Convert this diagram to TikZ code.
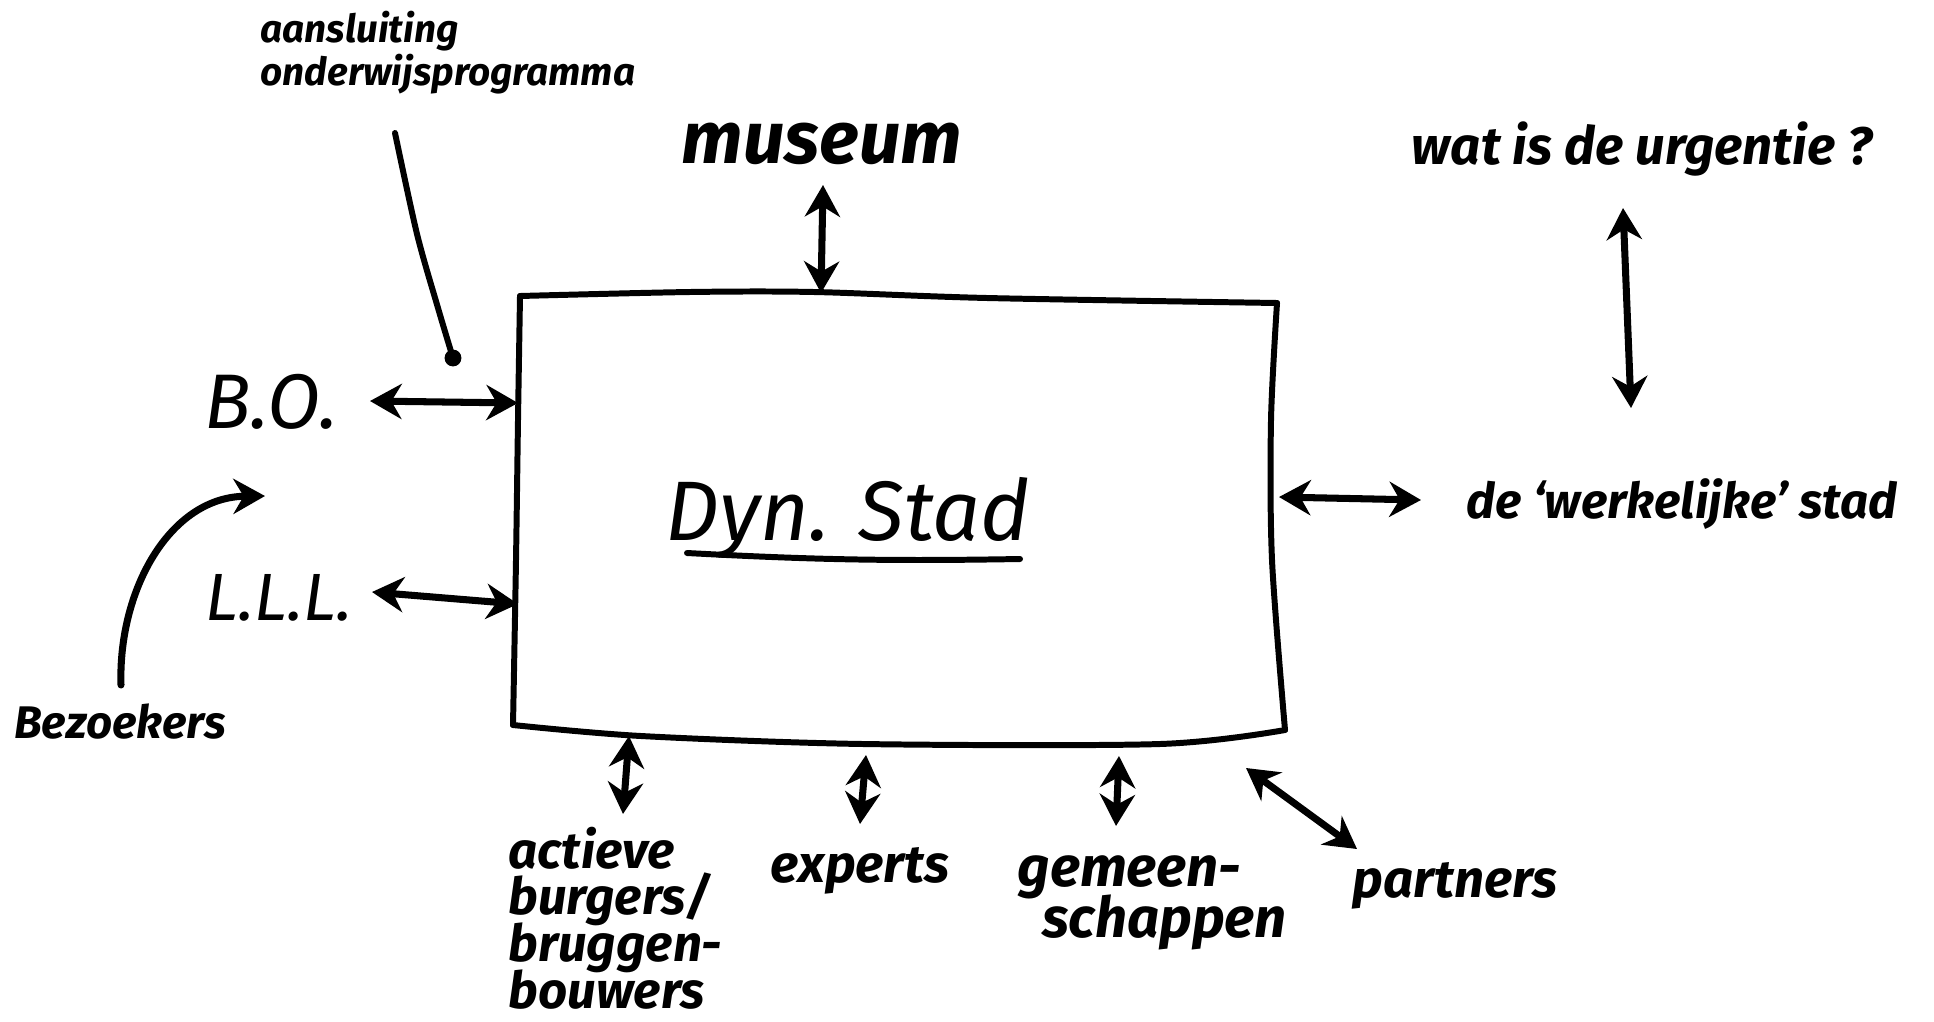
\documentclass[tikz,border=0pt]{standalone}
\usepackage{fontspec}
\setmainfont{Fira Sans}
\usetikzlibrary{arrows.meta}
\newcommand\tightlines{\lineskiplimit=-30pt\relax}
\begin{document}
\begin{tikzpicture}[x=0.01cm,y=-0.01cm,
  ink/.style={line width=1.7pt, line cap=round, line join=round},
  link/.style={ink, line width=2pt, {Stealth[length=9pt,width=10pt]}-{Stealth[length=9pt,width=10pt]}},
  oneway/.style={ink, line width=2pt, -{Stealth[length=9pt,width=10pt]}},
  marker/.style={inner sep=0pt, font=\bfseries\itshape},
  pen/.style={inner sep=0pt, font=\itshape}]
\useasboundingbox (0,0) rectangle (1934,1021);
\fill[white] (0,0) rectangle (1934,1021);

% the box
\coordinate (tl) at (520,296);
\coordinate (tr) at (1277,303);
\coordinate (br) at (1285,730);
\coordinate (bl) at (513,725);
\draw[ink] plot[smooth] coordinates {(tl) (690,292) (814,292) (987,298) (tr)};
\draw[ink] plot[smooth] coordinates {(tr) (1271,420) (1272,560) (br)};
\draw[ink] plot[smooth] coordinates {(br) (1160,744) (863,744) (641,736) (bl)};
\draw[ink] plot[smooth] coordinates {(bl) (516,560) (518,420) (tl)};

% texts
\node[pen, anchor=base, font=\itshape\fontsize{24}{28}\selectfont] (dyn) at (848,540) {Dyn. Stad};
\coordinate (ul1) at (687,553);
\coordinate (ul2) at (1020,559);
\draw[ink] (ul1) to[bend right=2] (ul2);

\node[marker, anchor=north west, align=left, font=\bfseries\itshape\fontsize{11}{12.5}\selectfont] (aans) at (260,10) {aansluiting\\onderwijsprogramma};
\node[marker, anchor=base, font=\bfseries\itshape\fontsize{21}{24}\selectfont] (museum) at (822,163) {museum};
\node[marker, anchor=base, font=\bfseries\itshape\fontsize{15}{18}\selectfont] (urg) at (1642,164) {wat is de urgentie ?};
\node[marker, anchor=base, font=\bfseries\itshape\fontsize{14}{17}\selectfont] (werk) at (1682,518) {de ‘werkelijke’ stad};
\node[pen, anchor=base, font=\itshape\fontsize{22}{26}\selectfont] (bo) at (271,428) {B.O.};
\node[pen, anchor=base, font=\itshape\fontsize{19}{23}\selectfont] (lll) at (279,620) {L.L.L.};
\node[marker, anchor=base, font=\bfseries\itshape\fontsize{13}{16}\selectfont] (bez) at (120,738) {Bezoekers};
\node[marker, anchor=north west, align=left, font={\bfseries\itshape\fontsize{14.5}{13.3}\selectfont\tightlines}] (act) at (508,826) {actieve\\burgers/\\bruggen-\\bouwers};
\node[marker, anchor=base, font=\bfseries\itshape\fontsize{15}{18}\selectfont] (exp) at (860,882) {experts};
\node[marker, anchor=north west, align=left, font={\bfseries\itshape\fontsize{16}{14.5}\selectfont\tightlines}] (gem) at (1017,855) {gemeen-\\\hspace*{7pt}schappen};
\node[marker, anchor=base, font=\bfseries\itshape\fontsize{15}{18}\selectfont] (part) at (1455,897) {partners};

% connector end points
\coordinate (muA) at (823,185);
\coordinate (muB) at (821,293);
\coordinate (boA) at (370,401);
\coordinate (boB) at (518,403);
\coordinate (llA) at (372,592);
\coordinate (llB) at (518,604);
\coordinate (bzA) at (121,685);
\coordinate (bzB) at (265,496);
\coordinate (wsA) at (1279,497);
\coordinate (wsB) at (1421,500);
\coordinate (urA) at (1623,208);
\coordinate (urB) at (1631,408);
\coordinate (acA) at (629,736);
\coordinate (acB) at (623,814);
\coordinate (exA) at (866,755);
\coordinate (exB) at (860,824);
\coordinate (gmA) at (1119,756);
\coordinate (gmB) at (1116,826);
\coordinate (paA) at (1246,768);
\coordinate (paB) at (1357,849);
\coordinate (anA) at (395,133);
\coordinate (anB) at (453,358);

% connectors
\draw[link] (muA) -- (muB);
\draw[link] (boA) -- (boB);
\draw[link] (llA) -- (llB);
\draw[oneway] (bzA) .. controls (118,590) and (170,497) .. (bzB);
\draw[link] (wsA) -- (wsB);
\draw[link] (urA) -- (urB);
\draw[link] (acA) -- (acB);
\draw[link] (exA) -- (exB);
\draw[link] (gmA) -- (gmB);
\draw[link] (paA) -- (paB);
\draw[ink] plot[smooth] coordinates {(anA) (417,234) (438,308) (anB)};
\fill (anB) circle (2.4pt);
\end{tikzpicture}
\end{document}
